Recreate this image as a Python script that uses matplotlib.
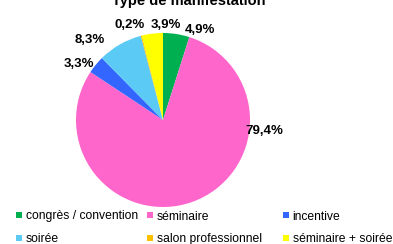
import matplotlib.pyplot as plt
from matplotlib.patches import Patch

plt.rcParams['font.family'] = ['Liberation Sans', 'DejaVu Sans']

categories = ["congrès / convention", "séminaire", "incentive",
              "soirée", "salon professionnel", "séminaire + soirée"]
shares = [4.9, 79.4, 3.3, 8.3, 0.2, 3.9]
pct_labels = ["4,9%", "79,4%", "3,3%", "8,3%", "0,2%", "3,9%"]
colors = ["#00B050", "#FF66CC", "#3366FF", "#5BCBF5", "#FFC000", "#FFFF00"]

# label spots in pie units (radius 1)
label_pos = [(0.43, 1.03), (1.17, -0.13), (-0.97, 0.64),
             (-0.84, 0.92), (-0.38, 1.09), (0.03, 1.09)]

W, H = 393, 244
fig = plt.figure(figsize=(W / 100, H / 100), dpi=100)

cx, cy, r = 163, 120, 87
ax = fig.add_axes([(cx - r) / W, (H - cy - r) / H, 2 * r / W, 2 * r / H])
wedges, texts = ax.pie(shares, colors=colors, startangle=90, counterclock=False,
                       labels=pct_labels, radius=1,
                       wedgeprops=dict(linewidth=0),
                       textprops=dict(fontsize=9.5, fontweight='bold'))
for t, (x, y) in zip(texts, label_pos):
    t.set_position((x, y))
    t.set_ha('center')
    t.set_va('center')
ax.set_xlim(-1, 1)
ax.set_ylim(-1, 1)
ax.set_aspect('equal')
ax.axis('off')

fig.text(189 / W, 1 - 5.5 / H, "Type de manifestation", ha='center',
         va='baseline', fontsize=10.5, fontweight='bold')

# legend laid out row by row as three separate columns
col_x = [16, 147, 283]
for c in range(3):
    idx = [c, c + 3]
    handles = [Patch(facecolor=colors[i], edgecolor='none') for i in idx]
    fig.legend(handles, [categories[i] for i in idx], loc='upper left',
               bbox_to_anchor=(col_x[c] / W, 1 - 210.5 / H), frameon=False,
               fontsize=8.7, handlelength=0.5, handleheight=0.45,
               handletextpad=0.3, labelspacing=0.9, borderpad=0,
               borderaxespad=0)

fig.savefig("out.png", dpi=100)
